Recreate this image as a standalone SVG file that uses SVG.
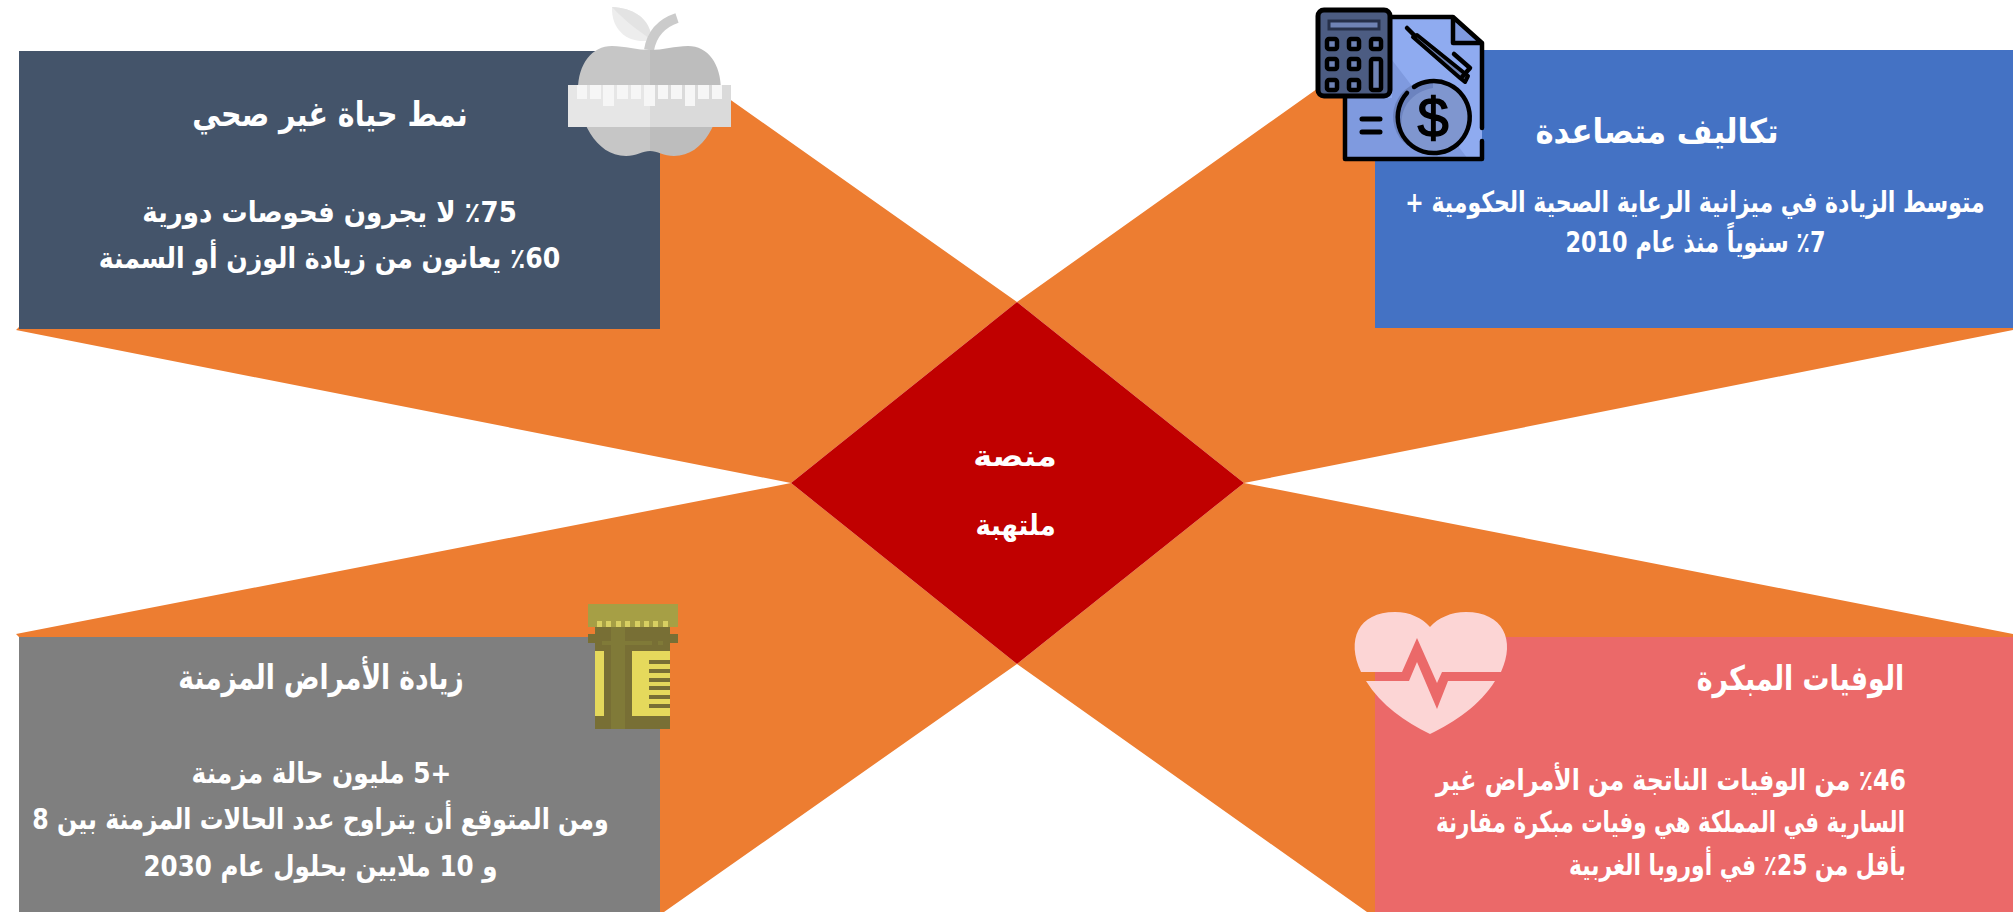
<svg xmlns="http://www.w3.org/2000/svg" width="2013" height="912" viewBox="0 0 2013 912">
<style>
text{font-family:"DejaVu Sans","Noto Sans",sans-serif;fill:#fff;direction:rtl;text-anchor:middle;font-weight:700}
.t{font-size:34px}.b{font-size:29px}.c{font-size:29px}
.n{unicode-bidi:isolate}
.arm{fill:#ED7D31}
.k{fill:none;stroke:#000;stroke-width:4.5;stroke-linecap:round;stroke-linejoin:round}
.btn{fill:#6F83B5;stroke:#000;stroke-width:4.500}
.tick{fill:#F6F6F6}
.dot{fill:#D8CF62}
.ln{fill:#786F35}
</style>
<rect width="2013" height="912" fill="#fff"/>
<g id="arms">
<polygon class="arm" points="1017,302 660,50 660,327 19,327 16,330 791,483"/>
<polygon class="arm" points="1017,302 1345,69 1377,69 1377,326 2013,326 2013,330 1244,483"/>
<polygon class="arm" points="791,483 16,634 21,639 660,639 660,912 664,912 1017,664"/>
<polygon class="arm" points="1244,483 2013,634 2013,639 1377,639 1377,912 1367,912 1017,664"/>
</g>
<g id="node-lifestyle">
<rect x="19" y="51" width="641" height="278" fill="#44546A"/>
<g id="icon-apple">
<path d="M612,7C632,8 650,17 652,40C632,45 611,33 612,7Z" fill="#EDEDED"/>
<path d="M612,7C626,22 640,32 652,40C650,17 632,8 612,7Z" fill="#E3E3E3"/>
<path d="M649,50C652,33 662,23 677,18" fill="none" stroke="#CBCBCB" stroke-width="10"/>
<path d="M650,50C637,50 625,46 612,46C592,46 578,64 578,90C578,118 595,156 626,156C636,156 643,151 650,151Z" fill="#C6C6C6"/>
<path d="M650,50C663,50 675,46 688,46C708,46 721,64 721,90C721,118 705,156 674,156C664,156 657,151 650,151Z" fill="#BDBDBD"/>
<rect x="568" y="85" width="82" height="42" fill="#E6E6E6"/>
<rect x="650" y="85" width="81" height="42" fill="#DADADA"/>
<rect class="tick" x="577" y="85" width="10" height="14"/><rect class="tick" x="590" y="85" width="11" height="14"/>
<rect class="tick" x="603" y="85" width="11" height="21"/><rect class="tick" x="617" y="85" width="11" height="14"/>
<rect class="tick" x="631" y="85" width="10" height="14"/><rect class="tick" x="644" y="85" width="11" height="21"/>
<rect class="tick" x="658" y="85" width="10" height="14"/><rect class="tick" x="671" y="85" width="11" height="14"/>
<rect class="tick" x="685" y="85" width="10" height="21"/><rect class="tick" x="698" y="85" width="11" height="14"/>
<rect class="tick" x="712" y="85" width="10" height="14"/>
</g>
<text class="t" transform="translate(330 126) scale(.838 1)">نمط حياة غير صحي</text>
<text class="b" transform="translate(329.500 222) scale(.899 1)"><tspan class="n">75</tspan>٪ لا يجرون فحوصات دورية</text>
<text class="b" transform="translate(329.500 268) scale(.867 1)"><tspan class="n">60</tspan>٪ يعانون من زيادة الوزن أو السمنة</text>
</g>
<g id="node-costs">
<rect x="1375" y="50" width="638" height="278" fill="#4472C4"/>
<g id="icon-bill">
<path d="M1345,17H1453L1482,43V159H1345Z" fill="#8FABF0"/>
<path d="M1392,60L1468,159H1345V98H1392Z" fill="#7F9ADF"/>
<path d="M1453,17V43H1482Z" fill="#7F9ADF"/>
<path class="k" d="M1392,17H1453L1482,43V128M1482,141V159H1345V98M1453,17V43H1482"/>
<path d="M1413,37L1417,35L1468,76L1465,82L1460,78Z" fill="#6F83B5" stroke="#000" stroke-width="4" stroke-linejoin="round"/>
<path class="k" d="M1407,28L1415,36M1454,54L1470,68L1462,77"/>
<circle cx="1433" cy="117" r="36" fill="#7F96CF"/>
<path d="M1433,81A36,36 0 0 0 1408,146C1392,116 1408,92 1433,88Z" fill="#6C83BF"/>
<path class="k" d="M1407,93A36,36 0 1 0 1414,87"/>
<text x="1433" y="137" style="font-family:'Liberation Sans',sans-serif;font-size:56px;fill:#000;direction:ltr;font-weight:400;stroke:#000;stroke-width:1.500">$</text>
<path class="k" style="stroke-width:5" d="M1362,119H1380M1362,132H1380"/>
<rect x="1318" y="10" width="72" height="86" rx="6" fill="#4C5C82" stroke="#000" stroke-width="5"/>
<rect x="1329" y="21" width="50" height="8" fill="#6F83B5" stroke="#26304A" stroke-width="3"/>
<rect class="btn" x="1327" y="39" width="10" height="10" rx="2"/><rect class="btn" x="1349" y="39" width="10" height="10" rx="2"/><rect class="btn" x="1371" y="39" width="10" height="10" rx="2"/>
<rect class="btn" x="1327" y="59" width="10" height="10" rx="2"/><rect class="btn" x="1349" y="59" width="10" height="10" rx="2"/>
<rect class="btn" x="1327" y="80" width="10" height="10" rx="2"/><rect class="btn" x="1349" y="80" width="10" height="10" rx="2"/>
<rect class="btn" x="1371" y="59" width="10" height="31" rx="2"/>
</g>
<text class="t" transform="translate(1657 143) scale(.906 1)">تكاليف متصاعدة</text>
<text class="b" transform="translate(1695 212) scale(.759 1)">متوسط الزيادة في ميزانية الرعاية الصحية الحكومية +</text>
<text class="b" transform="translate(1695.500 252) scale(.77 1)"><tspan class="n">7</tspan>٪ سنوياً منذ عام 2010</text>
</g>
<g id="node-chronic">
<rect x="19" y="637" width="641" height="275" fill="#7F7F7F"/>
<g id="icon-bottle">
<rect x="595" y="627" width="75" height="102" fill="#786F35"/>
<rect x="588" y="604" width="90" height="23" fill="#A69F45"/>
<rect class="dot" x="597" y="621" width="5" height="6"/><rect class="dot" x="606" y="621" width="5" height="6"/><rect class="dot" x="616" y="621" width="5" height="6"/><rect class="dot" x="625" y="621" width="5" height="6"/><rect class="dot" x="635" y="621" width="5" height="6"/><rect class="dot" x="644" y="621" width="5" height="6"/><rect class="dot" x="653" y="621" width="5" height="6"/><rect class="dot" x="663" y="621" width="5" height="6"/>
<rect x="588" y="634" width="90" height="9" fill="#786F35"/>
<rect x="602" y="641" width="50" height="4" fill="#807A38"/><rect x="658" y="641" width="5" height="4" fill="#807A38"/>
<rect x="611" y="627" width="14" height="102" fill="#807A38"/>
<rect x="595" y="651" width="9" height="65" fill="#E5D95C"/>
<rect x="632" y="651" width="38" height="65" fill="#E5D95C"/>
<rect class="ln" x="649" y="660" width="21" height="4"/><rect class="ln" x="649" y="669" width="21" height="4"/><rect class="ln" x="649" y="678" width="21" height="4"/><rect class="ln" x="649" y="686" width="21" height="4"/><rect class="ln" x="649" y="695" width="21" height="4"/><rect class="ln" x="649" y="704" width="21" height="4"/>
</g>
<text class="t" transform="translate(321 689) scale(.778 1)">زيادة الأمراض المزمنة</text>
<text class="b" transform="translate(321.500 783) scale(.858 1)">+5 مليون حالة مزمنة</text>
<text class="b" transform="translate(320.500 829) scale(.817 1)">ومن المتوقع أن يتراوح عدد الحالات المزمنة بين 8</text>
<text class="b" transform="translate(320.500 876) scale(.849 1)">و 10 ملايين بحلول عام 2030</text>
</g>
<g id="node-deaths">
<rect x="1375" y="637" width="638" height="275" fill="#EB6969"/>
<g id="icon-heart" fill="#FCD5D5">
<path d="M1361,672C1346,640 1358,612 1395,612C1410,612 1422,618 1430,627C1438,618 1451,612 1466,612C1503,612 1516,640 1501,672H1442L1437,683L1417,638L1402,672Z"/>
<path d="M1366,681H1409L1417,662L1437,709L1448,681H1495C1480,705 1455,722 1430,734C1405,722 1381,705 1366,681Z"/>
</g>
<text class="t" transform="translate(1800.500 690) scale(.79 1)">الوفيات المبكرة</text>
<text class="b" transform="translate(1671 790) scale(.817 1)"><tspan class="n">46</tspan>٪ من الوفيات الناتجة من الأمراض غير</text>
<text class="b" transform="translate(1670.500 832) scale(.737 1)">السارية في المملكة هي وفيات مبكرة مقارنة</text>
<text class="b" transform="translate(1737.500 875) scale(.753 1)">بأقل من <tspan class="n">25</tspan>٪ في أوروبا الغربية</text>
</g>
<g id="node-center">
<polygon points="1017,302 1244,483 1017,664 791,483" fill="#C00000"/>
<text class="c" transform="translate(1015 466) scale(1.1 1)">منصة</text>
<text class="c" transform="translate(1015.500 535) scale(.89 1)">ملتهبة</text>
</g>
</svg>
